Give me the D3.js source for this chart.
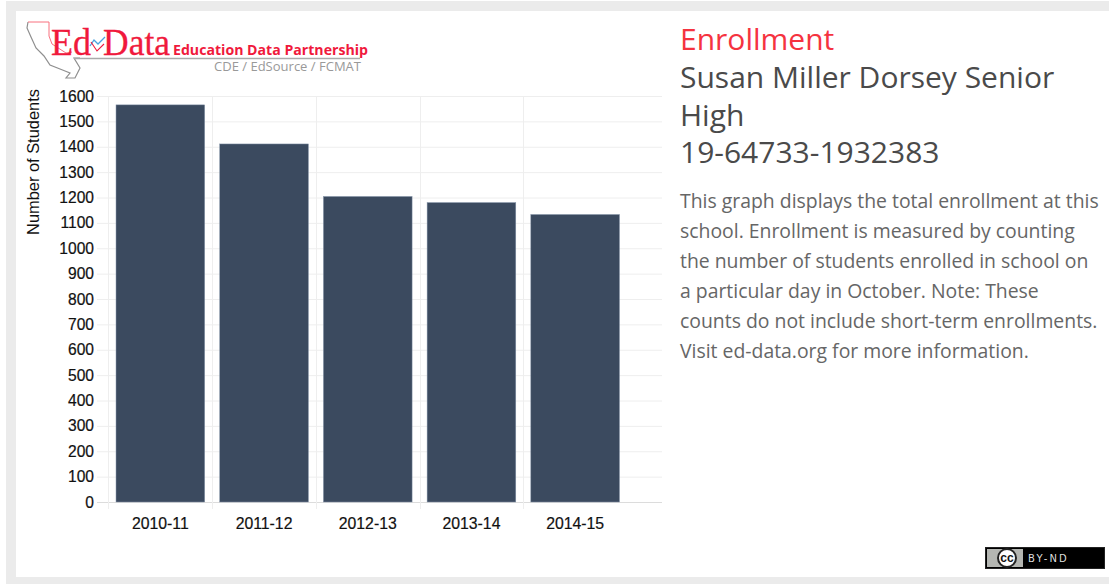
<!DOCTYPE html>
<html>
<head>
<meta charset="utf-8">
<script src="https://cdn.jsdelivr.net/npm/d3@7"></script>
<style>
  html, body { margin: 0; padding: 0; background: #fff; }
  svg { display: block; }
</style>
</head>
<body>
<svg id="chart" width="1109" height="584"></svg>
<script>
var years = ['2010-11', '2011-12', '2012-13', '2013-14', '2014-15'];
var enrollment = [1565, 1411, 1204, 1180, 1133];
var yTicks = d3.range(0, 1700, 100);
var description = [
  'This graph displays the total enrollment at this',
  'school. Enrollment is measured by counting',
  'the number of students enrolled in school on',
  'a particular day in October. Note: These',
  'counts do not include short-term enrollments.',
  'Visit ed-data.org for more information.'
];
var titleLines = ['Susan Miller Dorsey Senior', 'High', '19-64733-1932383'];

var svg = d3.select('#chart');
var sans = 'Liberation Sans, Arial, sans-serif';
var open = '"Open Sans", sans-serif';

// page panel
svg.append('rect').attr('x', 6).attr('y', 1).attr('width', 1103).attr('height', 583).attr('fill', '#ebebeb');
svg.append('rect').attr('x', 16).attr('y', 11).attr('width', 1093).attr('height', 566).attr('fill', '#fff');

var x = d3.scaleBand().domain(years).range([108.5, 627]).paddingInner(0.145).paddingOuter(0.0725);
var y = d3.scaleLinear().domain([0, 1600]).range([502, 96]);

// grid
var gap = (x.step() - x.bandwidth()) / 2;
svg.append('g').selectAll('line').data(yTicks).join('line')
  .attr('x1', 97).attr('x2', 662)
  .attr('y1', function (d) { return y(d) + 0.5; }).attr('y2', function (d) { return y(d) + 0.5; })
  .attr('stroke', function (d) { return d === 0 ? '#dcdcdc' : '#eeeeee'; });
svg.append('g').selectAll('line').data(years).join('line')
  .attr('x1', function (d) { return Math.round(x(d) - gap) + 0.5; })
  .attr('x2', function (d) { return Math.round(x(d) - gap) + 0.5; })
  .attr('y1', 96).attr('y2', 509)
  .attr('stroke', '#eeeeee');

svg.append('g').selectAll('rect').data(enrollment).join('rect')
  .attr('x', function (d, i) { return x(years[i]); })
  .attr('width', x.bandwidth())
  .attr('y', function (d) { return y(d); })
  .attr('height', function (d) { return y(0) - y(d); })
  .attr('fill', '#3b4a5f')
  .attr('stroke', '#8493a8').attr('stroke-width', 0.5);

// tick labels
svg.append('g').selectAll('text').data(yTicks).join('text')
  .attr('x', 94).attr('y', function (d) { return y(d) + 5.5; })
  .attr('text-anchor', 'end')
  .attr('font-family', sans).attr('font-size', 15.6).attr('fill', '#111')
  .attr('stroke', '#111').attr('stroke-width', 0.2)
  .text(function (d) { return d; });
svg.append('g').selectAll('text').data(years).join('text')
  .attr('x', function (d) { return x(d) + x.bandwidth() / 2; }).attr('y', 529)
  .attr('text-anchor', 'middle')
  .attr('font-family', sans).attr('font-size', 15.8).attr('fill', '#111')
  .attr('stroke', '#111').attr('stroke-width', 0.2)
  .text(function (d) { return d; });
svg.append('text')
  .attr('transform', 'translate(39,162) rotate(-90)')
  .attr('text-anchor', 'middle')
  .attr('font-family', sans).attr('font-size', 16.4).attr('fill', '#111')
  .text('Number of Students');

// logo
var logo = svg.append('g');
var redEdge = [[28, 22], [49, 22], [49, 36], [52, 44], [66, 53], [72, 52]];
var grayEdge = [[28, 22], [27, 28], [31, 37], [36, 48], [44, 56], [50, 65], [60, 69], [70, 73], [66, 78], [75, 78], [80, 68], [74, 58], [80, 58]];
logo.append('path').attr('d', d3.line()(grayEdge)).attr('fill', 'none').attr('stroke', '#8f8f8f').attr('stroke-width', 1.2);
logo.append('path').attr('d', d3.line()(redEdge)).attr('fill', 'none').attr('stroke', '#f8707f');
logo.append('line').attr('x1', 74).attr('x2', 360).attr('y1', 58.5).attr('y2', 58.5).attr('stroke', '#aaa').attr('stroke-width', 1.5);
logo.append('text').attr('x', 51).attr('y', 55).attr('font-family', 'Liberation Serif, serif').attr('font-size', 38).attr('fill', '#f0193c').attr('stroke', '#f0193c').attr('stroke-width', 0.3).attr('textLength', 40).attr('lengthAdjust', 'spacingAndGlyphs').text('Ed');
logo.append('text').attr('x', 103).attr('y', 55).attr('font-family', 'Liberation Serif, serif').attr('font-size', 38).attr('fill', '#f0193c').attr('stroke', '#f0193c').attr('stroke-width', 0.3).attr('textLength', 67).attr('lengthAdjust', 'spacingAndGlyphs').text('Data');
logo.append('path').attr('d', d3.line()([[90, 46], [94, 40], [98, 44], [105, 37]])).attr('fill', 'none').attr('stroke', '#4aa3df').attr('stroke-width', 1.3);
logo.append('path').attr('d', d3.line()([[91, 42], [97, 51], [104, 44]])).attr('fill', 'none').attr('stroke', '#f0193c').attr('stroke-width', 1.1);
logo.append('text').attr('x', 173).attr('y', 55).attr('font-family', open).attr('font-weight', 700).attr('font-size', 14).attr('fill', '#f0193c').attr('textLength', 195).attr('lengthAdjust', 'spacingAndGlyphs').text('Education Data Partnership');
logo.append('text').attr('x', 214).attr('y', 71).attr('font-family', open).attr('font-size', 12.5).attr('fill', '#999').attr('textLength', 147).attr('lengthAdjust', 'spacingAndGlyphs').text('CDE / EdSource / FCMAT');

// right column
svg.append('text').attr('x', 680).attr('y', 50).attr('font-family', open).attr('font-size', 30).attr('fill', '#f5333f').text('Enrollment');
svg.append('g').selectAll('text').data(titleLines).join('text')
  .attr('x', 680).attr('y', function (d, i) { return 88 + i * 37.5; })
  .attr('font-family', open).attr('font-size', 30).attr('fill', '#4a4a4a')
  .text(function (d) { return d; });
svg.append('g').selectAll('text').data(description).join('text')
  .attr('x', 680).attr('y', function (d, i) { return 208 + i * 30; })
  .attr('font-family', open).attr('font-size', 19.4).attr('fill', '#666')
  .text(function (d) { return d; });

// cc badge
var cc = svg.append('g');
cc.append('rect').attr('x', 985.5).attr('y', 547.5).attr('width', 119).attr('height', 21).attr('fill', '#000').attr('stroke', '#222');
cc.append('rect').attr('x', 987).attr('y', 549).attr('width', 36).attr('height', 18).attr('fill', '#b4b6b2');
cc.append('circle').attr('cx', 1007).attr('cy', 558).attr('r', 9).attr('fill', '#fff').attr('stroke', '#222').attr('stroke-width', 2);
cc.append('text').attr('x', 1007).attr('y', 562).attr('text-anchor', 'middle').attr('font-family', sans).attr('font-weight', 700).attr('font-size', 12).attr('fill', '#111').text('cc');
cc.append('text').attr('x', 1028).attr('y', 562).attr('font-family', 'DejaVu Sans, sans-serif').attr('font-size', 10).attr('letter-spacing', 2.2).attr('fill', '#ddd').text('BY-ND');
</script>
</body>
</html>
